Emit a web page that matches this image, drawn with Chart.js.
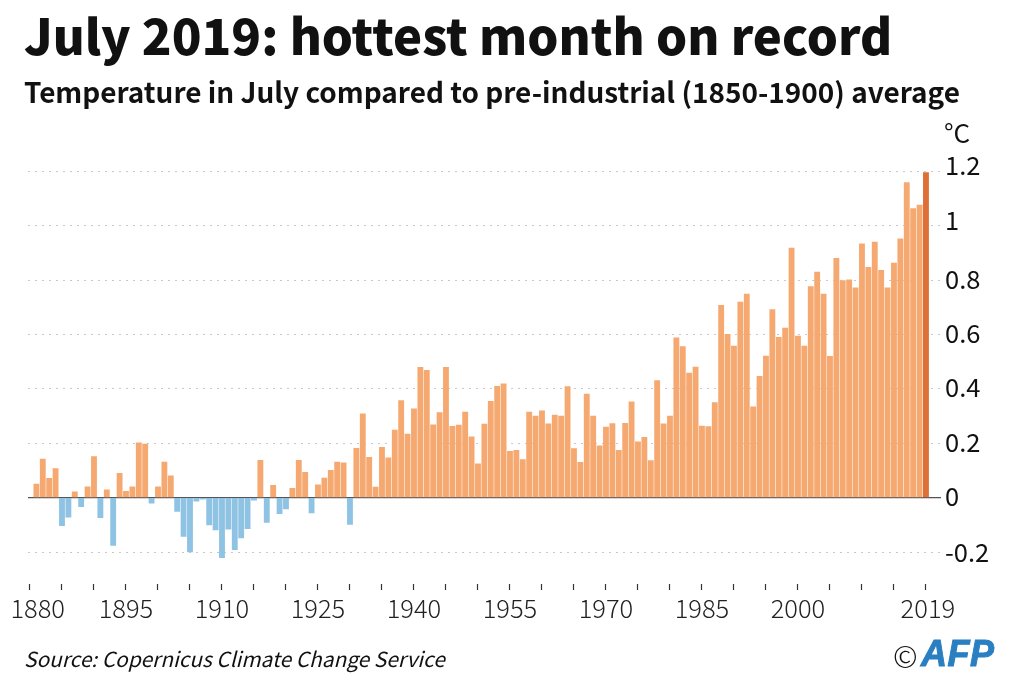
<!DOCTYPE html>
<html>
<head>
<meta charset="utf-8">
<script src="https://cdn.jsdelivr.net/npm/chart.js@4"></script>
<style>
html,body{margin:0;padding:0;background:#fff;}
#wrap{position:relative;width:1020px;height:690px;overflow:hidden;}
canvas{position:absolute;left:0;top:0;}
.t{position:absolute;white-space:nowrap;color:#111;font-family:"Noto Sans CJK SC","Noto Sans",sans-serif;}
#title{left:24px;top:-2px;font-size:49px;font-weight:900;line-height:72px;}
#sub{left:24px;top:69px;font-size:27.95px;font-weight:700;line-height:44px;}
#unit{left:944px;top:114px;font-size:26px;font-weight:400;line-height:36px;}
#src{left:24px;top:641px;font-size:20.85px;font-style:italic;line-height:34px;}
#copy{left:893px;top:637px;font-size:30px;font-weight:300;line-height:36px;}
#afp{left:921px;top:633px;font-family:"Liberation Sans";font-size:36px;font-weight:700;font-style:italic;letter-spacing:0.5px;color:#2a7fc1;-webkit-text-stroke:1px #2a7fc1;line-height:42px;}
</style>
</head>
<body>
<div id="wrap">
<canvas id="c" width="1020" height="690"></canvas>
<div class="t" id="title">July 2019: hottest month on record</div>
<div class="t" id="sub">Temperature in July compared to pre-industrial (1850-1900) average</div>
<div class="t" id="unit">°C</div>
<div class="t" id="src">Source: Copernicus Climate Change Service</div>
<div class="t" id="copy">©</div>
<div class="t" id="afp">AFP</div>
</div>
<script>
const firstYear = 1880;
const anomalies = [
0.05,0.142,0.071,0.107,-0.103,-0.072,0.021,-0.033,0.04,0.151,
-0.074,0.029,-0.176,0.089,0.023,0.04,0.201,0.197,-0.02,0.04,
0.131,0.08,-0.051,-0.143,-0.2,-0.013,-0.006,-0.1,-0.119,-0.221,
-0.116,-0.191,-0.148,-0.114,-0.009,0.137,-0.091,0.045,-0.059,-0.042,
0.034,0.137,0.093,-0.056,0.047,0.072,0.1,0.131,0.128,-0.099,
0.181,0.308,0.148,0.039,0.185,0.146,0.248,0.357,0.234,0.326,
0.479,0.468,0.268,0.313,0.479,0.262,0.267,0.314,0.223,0.124,
0.27,0.354,0.409,0.418,0.17,0.174,0.14,0.314,0.3,0.319,
0.271,0.303,0.3,0.408,0.18,0.13,0.381,0.3,0.19,0.259,
0.272,0.174,0.273,0.352,0.205,0.222,0.136,0.43,0.271,0.3,
0.587,0.555,0.458,0.48,0.263,0.261,0.349,0.707,0.6,0.557,
0.719,0.748,0.334,0.446,0.52,0.691,0.589,0.623,0.917,0.594,
0.557,0.776,0.829,0.748,0.519,0.88,0.798,0.801,0.771,0.933,
0.847,0.939,0.836,0.771,0.862,0.951,1.158,1.063,1.075,1.195];
const years = anomalies.map((_, i) => firstYear + i);

// x axis: tick marks, and the places the year labels sit
const xMarkValues = [1879,1884,1889,1894,1899,1904,1909,1914,1919,1924,1929,1934,1939,1944,1949,1954,1959,1964,1969,1974,1979,1984,1989,1994,1999,2004,2009,2014,2019];
const xLabelValues = [1880.2,1894,1909,1924,1939,1954,1969,1984,1999,2019.3];
const xLabelTexts = ['1880','1895','1910','1925','1940','1955','1970','1985','2000','2019'];

// y axis: grid lines, and the places the value labels sit
const yGridValues = [-0.2,0,0.2,0.4,0.6,0.8,1,1.2];
const yLabelValues = [-0.2,0.004,0.204,0.404,0.604,0.804,1.02,1.222];
const yLabelTexts = ['-0.2','0','0.2','0.4','0.6','0.8','1','1.2'];

const colorWarm = '#f5a971', colorCold = '#8fc3e4', colorLatest = '#de6f36';
const tickVal = ctx => (ctx && ctx.tick ? ctx.tick.value : null);

new Chart(document.getElementById('c'), {
  type: 'bar',
  data: {
    datasets: [{
      data: years.map((y, i) => ({x: y, y: anomalies[i]})),
      backgroundColor: anomalies.map((v, i) => i === anomalies.length - 1 ? colorLatest : (v < 0 ? colorCold : colorWarm)),
      barThickness: 5.2,
      borderWidth: 0
    }]
  },
  options: {
    responsive: false,
    animation: false,
    devicePixelRatio: 1,
    layout: {padding: {top: 157.6, left: 28, right: 0, bottom: 0}},
    plugins: {legend: {display: false}, tooltip: {enabled: false}, title: {display: false}},
    scales: {
      x: {
        type: 'linear',
        offset: false,
        min: 1878.69,
        max: 2021.35,
        border: {display: false},
        grid: {
          offset: false,
          drawOnChartArea: false,
          drawTicks: true,
          tickLength: 6,
          tickWidth: 1.2,
          tickColor: ctx => xMarkValues.includes(tickVal(ctx)) ? '#333' : 'rgba(0,0,0,0)'
        },
        afterBuildTicks: s => {
          const all = [...new Set([...xMarkValues, ...xLabelValues])].sort((a, b) => a - b);
          s.ticks = all.map(v => ({value: v}));
        },
        afterFit: s => { s.height = 106; },
        ticks: {
          autoSkip: false,
          maxRotation: 0,
          minRotation: 0,
          padding: 3,
          color: '#222',
          font: {family: '"Noto Sans CJK SC"', size: 25.5, weight: 300},
          callback: v => { const i = xLabelValues.indexOf(v); return i >= 0 ? xLabelTexts[i] : ''; }
        }
      },
      y: {
        position: 'right',
        min: -0.3176,
        max: 1.25,
        border: {
          display: false,
          dash: ctx => tickVal(ctx) === 0 ? [] : [2, 5]
        },
        grid: {
          drawTicks: false,
          lineWidth: ctx => tickVal(ctx) === 0 ? 1.3 : 1,
          color: ctx => {
            const v = tickVal(ctx);
            if (v === 0) return '#555';
            return yGridValues.includes(v) ? '#c9c9c9' : 'rgba(0,0,0,0)';
          }
        },
        afterBuildTicks: s => {
          const all = [...new Set([...yGridValues, ...yLabelValues])].sort((a, b) => a - b);
          s.ticks = all.map(v => ({value: v}));
        },
        afterFit: s => { s.width = 79; },
        ticks: {
          autoSkip: false,
          crossAlign: 'near',
          padding: 4,
          color: '#111',
          font: {family: '"Noto Sans CJK SC"', size: 25.5, weight: 400},
          callback: v => { const i = yLabelValues.indexOf(v); return i >= 0 ? yLabelTexts[i] : ''; }
        }
      }
    }
  }
});
</script>
</body>
</html>
